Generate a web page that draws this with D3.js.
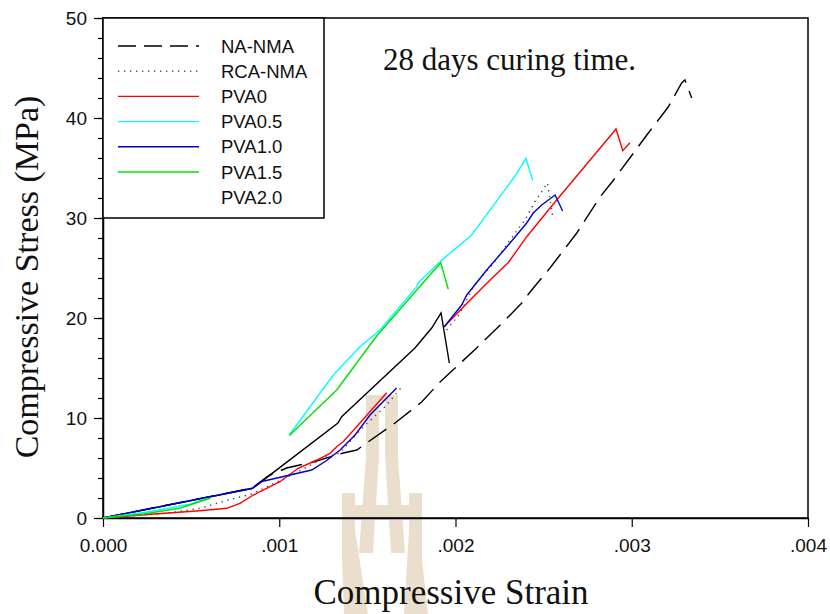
<!DOCTYPE html>
<html>
<head>
<meta charset="utf-8">
<script src="https://cdn.jsdelivr.net/npm/d3@7"></script>
<style>
body { margin: 0; background: #fff; }
</style>
</head>
<body>
<svg id="chart" width="830" height="614"></svg>
<script>
// Values as [strain, stress (MPa)]; null breaks the curve
var naNma = [[0,0],[0.000847,3.0],[0.000936,4.2],[0.001042,5.0],[0.001193,5.6],[0.001363,6.5],
	[0.00144,6.8],[0.001496,7.5],[0.001657,9.5],[0.001808,11.6],[0.001912,13.6],[0.00212,17.0],
	[0.002271,19.6],[0.002376,21.5],[0.002423,22.6],[0.002536,25.0],[0.002688,28.5],[0.00282,32.1],
	[0.002888,33.6],[0.003094,38.5],[0.003207,41.1],[0.003283,43.5],[0.003302,43.8],[0.00334,42.0]];
var rcaNma = [[0,0],[0.000361,0.47],[0.00055,0.97],[0.00072,1.85],[0.000844,2.4],[0.000986,3.6],
	[0.001099,4.53],[0.00125,6.0],[0.001345,6.5],[0.001458,8.8],[0.0016,11.13],[0.0017,13.2],null,
	[0.00195,18.8],[0.002026,20.47],[0.002101,23.13],[0.002215,25.47],[0.002309,27.8],[0.002394,29.8],
	[0.002451,31.63],[0.002522,33.5],[0.002552,30.07]];
var pva0 = [[0,0],[0.00027,0.37],[0.00055,0.73],[0.000702,0.97],[0.000777,1.47],[0.000853,2.3],
	[0.001004,3.63],[0.001108,4.97],[0.001213,5.8],[0.001288,6.47],[0.001326,7.13],[0.001363,7.63],
	[0.001439,9.13],[0.00161,12.53],null,
	[0.001936,19.13],[0.002101,22.13],[0.002196,23.8],[0.0023,25.55],[0.002404,28.13],[0.002574,31.8],
	[0.002911,38.9],[0.002949,36.73],[0.00299,37.53]];
var pva05 = [[0,0],[0.00025,0.6],[0.0005,1.4],[0.00058,1.9],null,
	[0.001057,8.3],[0.001307,14.3],[0.001458,17.13],[0.001572,18.8],[0.00178,23.13],[0.001789,23.53],
	[0.001912,25.63],[0.002092,28.3],[0.002338,34.2],[0.0024,35.97],[0.002438,33.75]];
var pva10 = [[0,0],[0.000845,2.95],[0.000902,3.65],[0.001061,4.3],[0.001184,4.8],[0.001269,5.75],
	[0.001345,6.8],[0.00143,8.3],[0.001515,10.3],[0.001666,13.0],null,
	[0.001935,19.1],[0.002035,21.3],[0.002064,22.3],[0.002177,24.8],[0.00229,27.1],[0.002404,29.5],
	[0.002441,30.5],[0.002489,31.3],[0.002565,32.3],[0.002608,30.7]];
var pva15 = [[0,0],[0.00023,0.4],[0.00044,1.0],[0.00061,2.0],null,
	[0.001057,8.25],[0.001326,12.8],[0.001515,17.3],[0.001553,18.2],[0.00178,22.8],[0.001916,25.53],
	[0.001959,22.87]];
var pva20 = [[0,0],[0.000849,2.97],[0.001333,9.5],[0.001354,10.13],[0.00177,17.0],[0.001865,19.0],
	[0.001918,20.5],[0.001965,15.5]];

var seriesNames = ["NA-NMA", "RCA-NMA", "PVA0", "PVA0.5", "PVA1.0", "PVA1.5", "PVA2.0"];
var xTicks = [0, 0.001, 0.002, 0.003, 0.004];
var xTickLabels = ["0.000", ".001", ".002", ".003", ".004"];
var yMajor = [0, 10, 20, 30, 40, 50];
var yMinor = d3.range(0, 51, 2);

var svg = d3.select('#chart');

var x = d3.scaleLinear().domain([0, 0.004]).range([103, 808]);
var y = d3.scaleLinear().domain([0, 50]).range([518, 18]);

// Watermark (university logo) behind everything
var wm = svg.append('g').attr('fill', '#eadfcc');
wm.append('rect').attr('x', 366).attr('y', 395).attr('width', 32).attr('height', 6);
wm.append('path').attr('d', 'M366,395L379,395L379,457L373,553L359,553L366,457Z');
wm.append('path').attr('d', 'M385,395L398,395L398,457L405,553L391,553L385,457Z');
wm.append('rect').attr('x', 342).attr('y', 505).attr('width', 80).attr('height', 15);
wm.append('path').attr('d', 'M342,493L355,493L355,530L368,614L344,614L342,560Z');
wm.append('path').attr('d', 'M409,493L422,493L422,560L428,614L404,614L409,530Z');

// Frame
svg.append('rect')
	.attr('x', 103).attr('y', 18).attr('width', 705).attr('height', 500)
	.attr('fill', 'none').attr('stroke', '#000').attr('stroke-width', 1.5);

// Axes
svg.append('g')
	.attr('transform', 'translate(0,518)')
	.call(d3.axisBottom(x).tickValues(xTicks).tickSize(9).tickSizeOuter(0).tickPadding(12)
		.tickFormat(function(d, i) { return xTickLabels[i]; }));

svg.append('g')
	.attr('transform', 'translate(103,0)')
	.call(d3.axisLeft(y).tickValues(yMinor).tickSize(5).tickSizeOuter(0).tickFormat(''))
	.select('.domain').remove();

svg.append('g')
	.attr('transform', 'translate(103,0)')
	.call(d3.axisLeft(y).tickValues(yMajor).tickSize(9).tickSizeOuter(0).tickPadding(7));

svg.selectAll('.tick line').attr('stroke', '#000').attr('stroke-width', 1.2);
svg.selectAll('.domain').attr('stroke', '#000').attr('stroke-width', 1.5);
svg.selectAll('.tick text')
	.attr('font-family', 'Liberation Sans, Arial, sans-serif')
	.attr('font-size', 19).attr('fill', '#111');

// Curves
var line = d3.line()
	.defined(function(d) { return d !== null; })
	.x(function(d) { return x(d[0]); })
	.y(function(d) { return y(d[1]); });

var styles = [
	{ data: pva20, color: '#000', dash: null },
	{ data: naNma, color: '#000', dash: '22,9' },
	{ data: rcaNma, color: '#444', dash: '1.3,4.7' },
	{ data: pva0, color: '#ff0000', dash: null },
	{ data: pva10, color: '#0000cc', dash: null },
	{ data: pva05, color: '#00ffff', dash: null },
	{ data: pva15, color: '#00e000', dash: null }
];

styles.forEach(function(s) {
	svg.append('path')
		.attr('d', line(s.data))
		.attr('fill', 'none')
		.attr('stroke', s.color)
		.attr('stroke-width', 1.4)
		.attr('stroke-dasharray', s.dash);
});

// Legend
svg.append('rect')
	.attr('x', 103).attr('y', 18).attr('width', 221).attr('height', 200)
	.attr('fill', '#fff').attr('stroke', '#000').attr('stroke-width', 1.5);

var legendStyle = [
	{ color: '#000', dash: '18,8' },
	{ color: '#555', dash: '1.3,4.7' },
	{ color: '#ff0000', dash: null },
	{ color: '#00ffff', dash: null },
	{ color: '#0000cc', dash: null },
	{ color: '#00e000', dash: null },
	null
];

seriesNames.forEach(function(name, i) {
	var cy = 46 + i * 25.2;
	if (legendStyle[i]) {
		svg.append('line')
			.attr('x1', 118).attr('x2', 199).attr('y1', cy).attr('y2', cy)
			.attr('stroke', legendStyle[i].color).attr('stroke-width', 1.4)
			.attr('stroke-dasharray', legendStyle[i].dash);
	}
	svg.append('text')
		.attr('x', 221).attr('y', cy + 6.5)
		.attr('font-family', 'Liberation Sans, Arial, sans-serif')
		.attr('font-size', 18.5).attr('fill', '#111')
		.text(name);
});

// Titles
svg.append('text')
	.attr('x', 383).attr('y', 70)
	.attr('font-family', 'Liberation Serif, Times New Roman, serif')
	.attr('font-size', 31).attr('fill', '#111')
	.text('28 days curing time.');

svg.append('text')
	.attr('x', 451).attr('y', 604)
	.attr('text-anchor', 'middle')
	.attr('font-family', 'Liberation Serif, Times New Roman, serif')
	.attr('font-size', 35).attr('fill', '#111')
	.text('Compressive Strain');

svg.append('text')
	.attr('transform', 'translate(38,277) rotate(-90)')
	.attr('text-anchor', 'middle')
	.attr('font-family', 'Liberation Serif, Times New Roman, serif')
	.attr('font-size', 34).attr('fill', '#111')
	.text('Compressive Stress (MPa)');
</script>
</body>
</html>
